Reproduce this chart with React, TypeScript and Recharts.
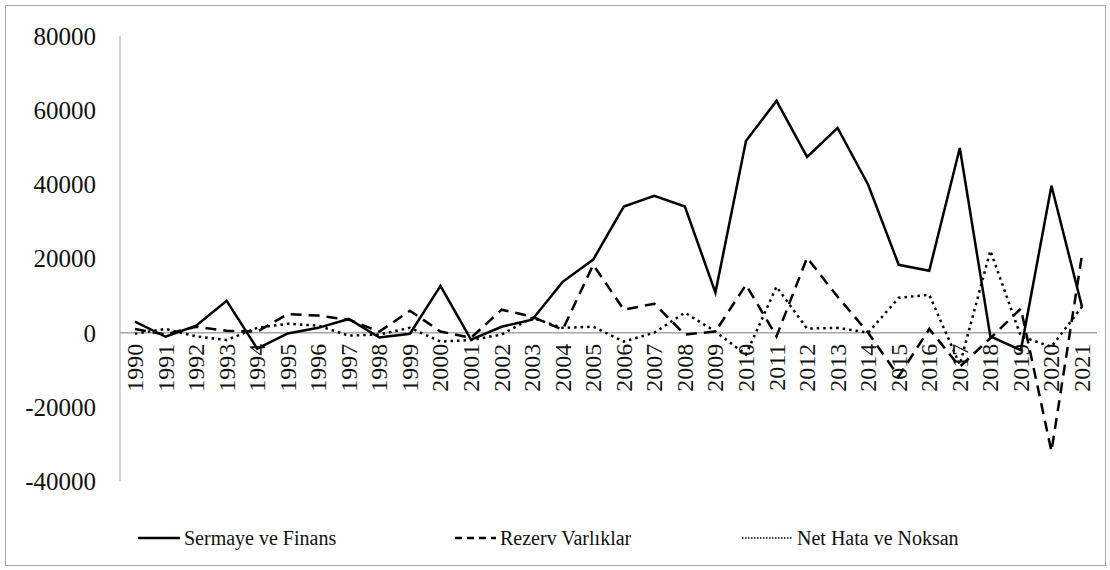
import React from 'react';
import { LineChart, Line, XAxis, YAxis, ReferenceLine, ReferenceDot } from 'recharts';

const years = [
  '1990', '1991', '1992', '1993', '1994', '1995', '1996', '1997', '1998', '1999',
  '2000', '2001', '2002', '2003', '2004', '2005', '2006', '2007', '2008', '2009',
  '2010', '2011', '2012', '2013', '2014', '2015', '2016', '2017', '2018', '2019',
  '2020', '2021',
];

const sermaye = [
  3000, -1100, 1900, 8600, -4300, -200, 1300, 3700, -1300, -300,
  12600, -1900, 1600, 3500, 13700, 19700, 34000, 36900, 34000, 10800,
  51700, 62500, 47400, 55200, 39900, 18300, 16700, 49800, -1000, -4700,
  39600, 7000,
];

const rezerv = [
  1000, -500, 1600, 500, 300, 5000, 4600, 3500, 300, 5900,
  300, -1400, 6200, 4300, 800, 18300, 6200, 7800, -500, 300,
  12900, -1000, 20200, 9700, 0, -11800, 1000, -9200, -1500, 6500,
  -32000, 21000,
];

const netHata = [
  -300, 1000, -1000, -2000, 1300, 2400, 1900, -800, -500, 1300,
  -2400, -2000, -500, 4000, 1300, 1600, -2400, 0, 5400, 300,
  -5900, 12400, 1100, 1300, 0, 9400, 10200, -8600, 22100, -1000,
  -3800, 7000,
];

const yTicks = [-40000, -20000, 0, 20000, 40000, 60000, 80000];

const data = years.map((year, i) => ({
  year,
  sermaye: sermaye[i],
  rezerv: rezerv[i],
  netHata: netHata[i],
}));

const FONT = "'Liberation Serif', 'DejaVu Serif', serif";

const YearLabel = ({ viewBox, value }: any) => {
  if (!viewBox) return null;
  const cx = viewBox.x + (viewBox.width || 0) / 2;
  const cy = viewBox.y + (viewBox.height || 0) / 2;
  return (
    <text
      transform={`translate(${cx},${cy + 11}) rotate(-90)`}
      textAnchor="end"
      dominantBaseline="central"
      style={{ fontFamily: FONT }}
      fontSize={24}
      fill="#111"
    >
      {value}
    </text>
  );
};

// legend: sample line width, dash pattern, left edge
const legendItems = [
  { name: 'Sermaye ve Finans', dash: '', width: 42, stroke: 2.5, left: 138 },
  { name: 'Rezerv Varlıklar', dash: '7 5', width: 41, stroke: 2.5, left: 455 },
  { name: 'Net Hata ve Noksan', dash: '1.5 1.5', width: 51, stroke: 1.5, left: 742 },
];

const App = () => {
  return (
    <div style={{ position: 'absolute', left: 0, top: 0, width: 1110, height: 570, background: '#fff', fontFamily: FONT }}>
      <div
        style={{
          position: 'absolute',
          left: 5,
          top: 5,
          width: 1099,
          height: 559,
          border: '1px solid #a6a6a6',
        }}
      />
      <LineChart
        width={1110}
        height={570}
        data={data}
        margin={{ top: 36, right: 13, left: 0, bottom: 89 }}
        style={{ position: 'absolute', left: 0, top: 0, fontFamily: FONT }}
      >
        <XAxis dataKey="year" hide padding={{ left: 15, right: 15 }} />
        <YAxis
          width={120}
          domain={[-40000, 80000]}
          ticks={yTicks}
          interval={0}
          tickLine={false}
          tickSize={0}
          tickMargin={24}
          axisLine={{ stroke: '#a6a6a6', strokeWidth: 1 }}
          tick={{ fontSize: 25, fill: '#111', style: { fontFamily: FONT } }}
        />
        <ReferenceLine y={0} stroke="#a6a6a6" strokeWidth={1.5} />
        <Line
          dataKey="sermaye"
          stroke="#000"
          strokeWidth={2.5}
          dot={false}
          isAnimationActive={false}
          type="linear"
        />
        <Line
          dataKey="rezerv"
          stroke="#000"
          strokeWidth={2.5}
          strokeDasharray="11 7"
          dot={false}
          isAnimationActive={false}
          type="linear"
        />
        <Line
          dataKey="netHata"
          stroke="#000"
          strokeWidth={2.5}
          strokeDasharray="2.5 4"
          dot={false}
          isAnimationActive={false}
          type="linear"
        />
        {years.map((year) => (
          <ReferenceDot
            key={year}
            x={year}
            y={0}
            r={1}
            fill="none"
            stroke="none"
            label={<YearLabel value={year} />}
          />
        ))}
      </LineChart>
      {legendItems.map((item) => (
        <div
          key={item.name}
          style={{
            position: 'absolute',
            left: item.left,
            top: 524,
            height: 28,
            display: 'flex',
            alignItems: 'center',
            fontFamily: FONT,
            fontSize: 20,
            color: '#111',
            whiteSpace: 'nowrap',
          }}
        >
          <svg width={item.width} height={10} style={{ marginRight: 4 }}>
            <line
              x1={0}
              y1={5}
              x2={item.width}
              y2={5}
              stroke="#000"
              strokeWidth={item.stroke}
              strokeDasharray={item.dash || undefined}
            />
          </svg>
          {item.name}
        </div>
      ))}
    </div>
  );
};

export default App;
